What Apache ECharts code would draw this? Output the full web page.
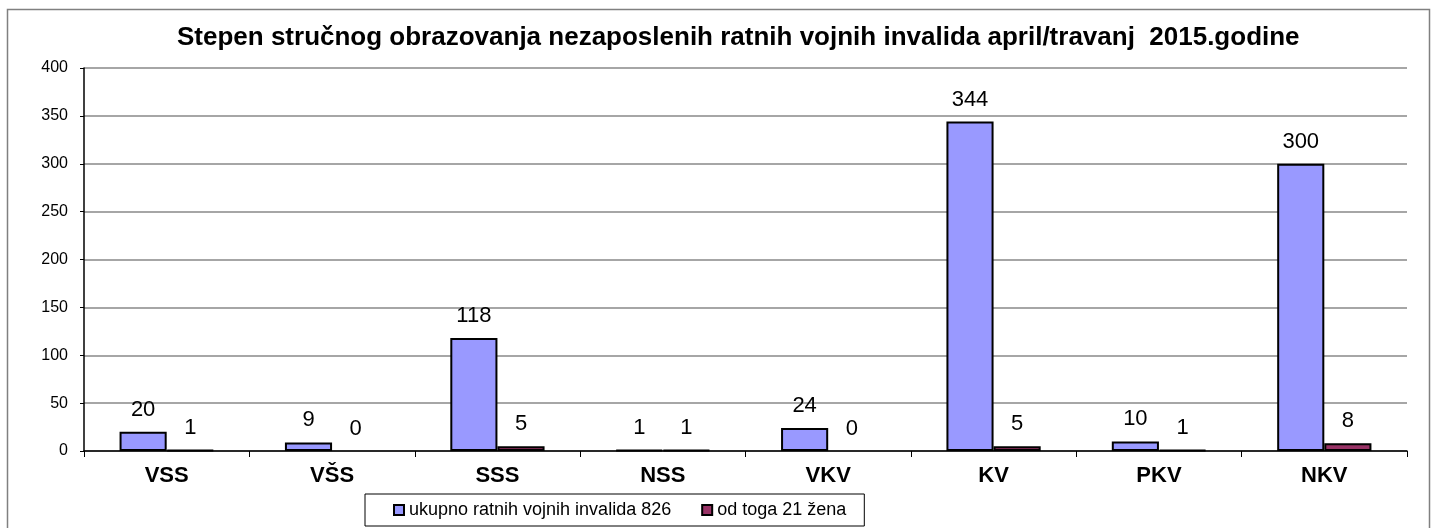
<!DOCTYPE html>
<html>
<head>
<meta charset="utf-8">
<script src="https://cdn.jsdelivr.net/npm/echarts@6/dist/echarts.min.js"></script>
<style>html,body{margin:0;padding:0;background:#fff}#c{width:1438px;height:528px}</style>
</head>
<body>
<div id="c"></div>
<script>
const titleText = 'Stepen stručnog obrazovanja nezaposlenih ratnih vojnih invalida april/travanj  2015.godine';
const categories = ['VSS', 'VŠS', 'SSS', 'NSS', 'VKV', 'KV', 'PKV', 'NKV'];
const seriesNames = ['ukupno ratnih vojnih invalida 826', 'od toga 21 žena'];
const totalValues = [20, 9, 118, 1, 24, 344, 10, 300];
const womenValues = [1, 0, 5, 1, 0, 5, 1, 8];
const yTicks = {min: 0, max: 400, interval: 50};

const chart = echarts.init(document.getElementById('c'), null, {renderer: 'canvas'});
const font = 'Liberation Sans, Arial, sans-serif';
function mk(vals){
  return vals.map(v => ({value: v, itemStyle: v === 0 ? {borderWidth: 0} : {}}));
}
const lbl = {show: true, position: 'top', distance: 11, fontFamily: font, fontSize: 22, color: '#000'};
chart.setOption({
  animation: false,
  backgroundColor: '#fff',
  textStyle: {fontFamily: font},
  title: {
    text: titleText,
    left: 177, top: 25,
    padding: 0,
    textStyle: {fontFamily: font, fontSize: 26, fontWeight: 'bold', color: '#000'}
  },
  graphic: [{
    type: 'rect', silent: true, z: -1,
    shape: {x: 7.5, y: 9.5, width: 1422, height: 540},
    style: {fill: 'none', stroke: '#808080', lineWidth: 1.5}
  }],
  legend: {
    left: 365, top: 494,
    padding: [7, 18, 7, 28],
    borderColor: '#000', borderWidth: 1,
    itemWidth: 10, itemHeight: 10, itemGap: 30,
    icon: 'rect',
    textStyle: {fontFamily: font, fontSize: 18, color: '#000'},
    data: seriesNames
  },
  grid: {left: 84, right: 31, top: 68, bottom: 77, containLabel: false},
  xAxis: {
    type: 'category',
    data: categories,
    axisLine: {lineStyle: {color: '#000', width: 1.5}},
    axisTick: {show: true, length: 6, lineStyle: {color: '#000'}},
    axisLabel: {fontFamily: font, fontSize: 22, fontWeight: 'bold', color: '#000', margin: 14}
  },
  yAxis: {
    type: 'value',
    min: yTicks.min, max: yTicks.max, interval: yTicks.interval,
    axisLine: {show: true, lineStyle: {color: '#000', width: 1.5}},
    axisTick: {show: true, length: 4, lineStyle: {color: '#000'}},
    axisLabel: {fontFamily: font, fontSize: 16, color: '#000', margin: 16},
    splitLine: {lineStyle: {color: '#a6a6a6', width: 2}}
  },
  series: [
    {
      name: seriesNames[0], type: 'bar',
      data: mk(totalValues),
      barGap: '0%', barCategoryGap: '43%',
      itemStyle: {color: '#9999FF', borderColor: '#000', borderWidth: 2},
      label: lbl
    },
    {
      name: seriesNames[1], type: 'bar',
      data: mk(womenValues),
      barGap: '0%', barCategoryGap: '43%',
      itemStyle: {color: '#993366', borderColor: '#000', borderWidth: 2},
      label: lbl
    }
  ]
});
</script>
</body>
</html>
